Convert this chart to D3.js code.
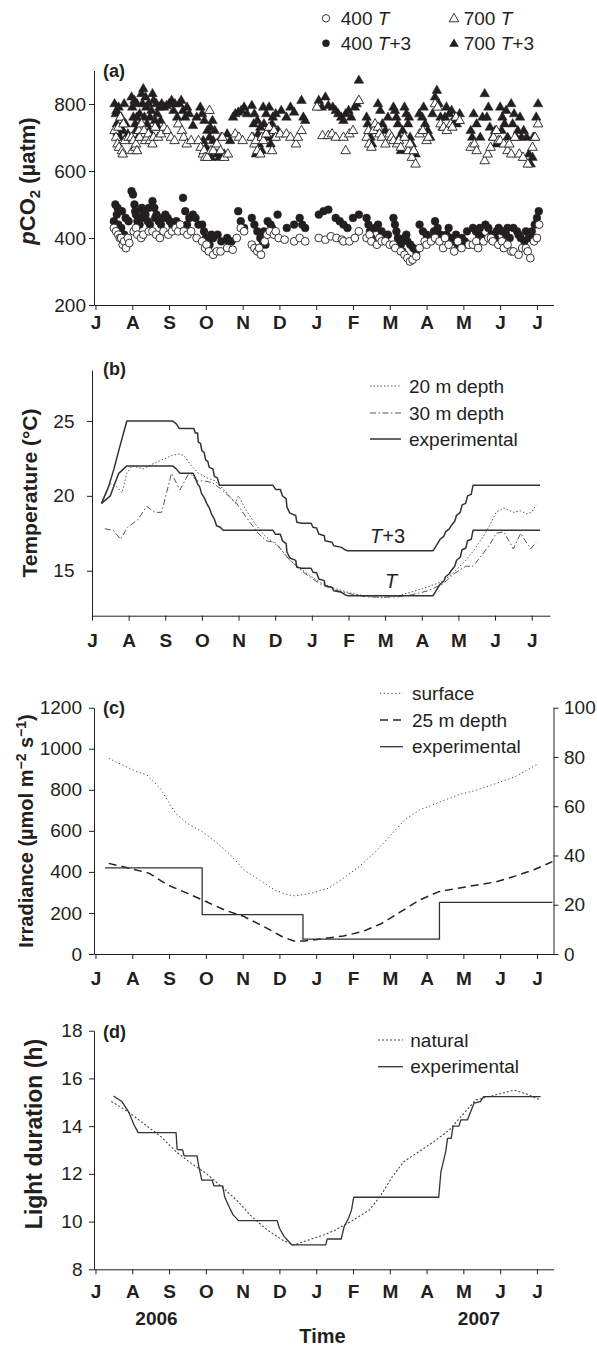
<!DOCTYPE html>
<html lang="en">
<head>
<meta charset="UTF-8">
<title>pCO2, temperature, irradiance and light duration</title>
<script src="https://d3js.org/d3.v7.min.js"></script>
<style>
  body { margin: 0; background: #fff; }
  svg { display: block; }
  text { font-family: "Liberation Sans", Arial, Helvetica, sans-serif; fill: #231f20; }
  .axis path, .axis line { stroke: #231f20; stroke-width: 1; }
  .axis text { font-family: "Liberation Sans", Arial, Helvetica, sans-serif; fill: #231f20; }
</style>
</head>
<body>
<svg width="597" height="1346"></svg>
<script>
const svg = d3.select("svg");
const INK = "#231f20";

// === Data (x = months since July 2006) ===
const months = ["J", "A", "S", "O", "N", "D", "J", "F", "M", "A", "M", "J", "J"];

// (a) pCO2, µatm
const co2_700_T3 = [
  [0.52,800],[0.55,770],[0.57,780],[0.58,740],[0.6,715],[0.63,790],[0.66,700],[0.69,730],[0.7,760],[0.74,720],[0.78,800],[0.82,740],[0.88,710],
  [0.98,820],[1.0,790],[1.03,760],[1.06,810],[1.08,740],[1.1,720],[1.12,760],[1.13,800],[1.16,700],[1.2,770],[1.22,740],
  [1.25,830],[1.28,800],[1.3,845],[1.33,760],[1.36,820],[1.38,790],[1.4,740],[1.44,800],[1.46,720],[1.48,760],[1.52,780],
  [1.55,830],[1.58,810],[1.62,750],[1.66,800],[1.68,770],[1.7,730],[1.74,790],[1.77,750],[1.8,800],[1.86,790],[1.93,795],[2.0,800],
  [2.07,810],[2.12,780],[2.16,800],[2.22,760],[2.28,800],[2.33,810],[2.38,780],[2.44,760],[2.49,790],[2.55,770],
  [2.65,735],[2.75,760],[2.85,790],[2.9,770],[2.93,690],[2.96,750],[3.0,670],[3.04,720],[3.07,660],[3.1,700],[3.12,730],[3.14,640],
  [3.18,750],[3.2,690],[3.24,720],[3.3,650],[3.36,640],[3.42,700],[3.5,650],[3.58,710],[3.66,690],[3.74,760],
  [3.8,770],[3.88,775],[3.96,780],[4.04,790],[4.12,770],
  [4.25,795],[4.28,700],[4.3,740],[4.32,770],[4.36,650],[4.4,750],[4.42,710],[4.44,680],[4.48,730],[4.52,660],[4.56,790],[4.58,740],[4.6,700],
  [4.64,770],[4.68,720],[4.7,700],[4.72,790],[4.76,680],[4.8,740],[4.82,760],[4.85,700],[4.9,770],[4.96,720],[5.05,780],
  [5.19,760],[5.3,790],[5.4,775],[5.6,810],[5.65,760],[5.7,750],
  [6.07,810],[6.15,790],[6.25,820],[6.33,795],[6.45,790],[6.53,780],[6.6,770],[6.68,760],[6.74,750],
  [6.8,770],[6.88,780],[6.95,760],[7.05,790],[7.1,800],[7.16,870],
  [7.37,760],[7.4,740],[7.44,720],[7.48,700],[7.52,680],[7.6,720],[7.68,800],[7.74,780],[7.8,740],[7.88,720],[7.95,760],
  [8.1,790],[8.14,780],[8.18,760],[8.22,740],[8.26,700],[8.3,660],[8.35,720],
  [8.4,790],[8.45,770],[8.5,740],[8.52,760],[8.55,700],[8.6,680],[8.65,660],[8.7,650],
  [8.8,770],[8.88,760],[8.92,790],[8.96,740],[9.03,720],[9.1,700],[9.16,770],[9.23,820],[9.28,840],[9.33,800],[9.38,760],[9.44,730],
  [9.5,760],[9.54,790],[9.62,770],[9.68,780],[9.72,750],[9.82,740],[9.9,770],
  [10.2,720],[10.24,700],[10.28,770],[10.36,740],[10.46,700],[10.52,760],[10.58,830],[10.64,760],[10.68,790],[10.72,730],[10.8,700],[10.86,720],[10.9,680],
  [11.0,790],[11.04,720],[11.06,760],[11.12,740],[11.16,780],[11.2,700],[11.3,800],[11.34,740],[11.38,770],[11.44,700],[11.48,720],[11.54,760],[11.58,700],[11.64,720],
  [11.72,700],[11.78,650],[11.83,620],[11.88,640],[11.9,700],[11.93,700],[11.98,760],[12.03,800]
];
const co2_700_T = [
  [0.52,720],[0.56,700],[0.6,680],[0.62,730],[0.64,670],[0.68,760],[0.72,660],[0.74,650],[0.76,740],[0.8,690],[0.9,700],
  [0.98,700],[1.0,660],[1.03,690],[1.08,670],[1.1,680],[1.13,660],[1.18,720],[1.2,700],
  [1.25,740],[1.32,720],[1.35,690],[1.4,700],[1.44,710],[1.48,690],[1.55,680],[1.58,700],[1.62,730],[1.7,700],[1.78,710],
  [1.86,730],[1.95,720],[2.05,700],[2.15,690],[2.25,740],[2.35,720],[2.4,700],[2.48,680],[2.6,690],
  [2.8,690],[2.86,670],[2.92,650],[2.95,660],[2.98,640],[3.04,640],[3.1,780],[3.14,660],[3.2,660],
  [3.3,680],[3.4,660],[3.45,700],[3.5,640],[3.6,650],[3.8,710],[3.9,700],[4.0,690],
  [4.25,700],[4.32,680],[4.36,690],[4.4,660],[4.48,650],[4.52,700],[4.56,690],[4.64,710],[4.72,730],[4.8,660],[4.85,720],[4.9,700],[5.02,710],
  [5.19,710],[5.3,700],[5.45,680],[5.5,700],[5.6,720],
  [6.02,790],[6.17,705],[6.33,705],[6.43,710],[6.53,700],[6.74,700],[6.8,660],[6.9,710],[7.0,720],[7.16,810],
  [7.37,700],[7.42,720],[7.44,680],[7.5,670],[7.56,720],[7.6,740],[7.68,730],[7.72,710],[7.78,700],[7.88,680],
  [7.99,710],[8.05,700],[8.1,690],[8.2,680],[8.25,690],[8.3,670],[8.4,700],[8.5,660],[8.55,680],[8.6,640],[8.65,660],[8.7,620],
  [8.81,710],[8.9,720],[9.0,690],[9.05,700],[9.23,800],[9.3,790],[9.38,740],[9.46,730],[9.55,720],[9.66,740],[9.7,730],[9.8,760],[9.9,750],
  [10.2,670],[10.3,680],[10.36,660],[10.58,630],[10.66,650],[10.74,670],[10.82,700],[10.9,720],[10.95,690],
  [11.0,690],[11.1,680],[11.2,660],[11.25,680],[11.3,650],[11.4,700],[11.52,650],[11.62,640],[11.75,620],[11.88,670],[11.95,700],[12.03,740]
];
const co2_400_T3 = [
  [0.5,450],[0.54,500],[0.58,470],[0.6,490],[0.62,440],[0.66,420],[0.7,430],[0.72,480],[0.78,410],[0.82,460],[0.9,450],
  [0.98,540],[1.02,530],[1.06,500],[1.08,480],[1.1,470],[1.14,450],[1.18,460],[1.2,440],
  [1.26,490],[1.3,480],[1.33,460],[1.36,470],[1.42,450],[1.45,490],[1.48,440],[1.55,510],[1.6,490],[1.62,460],[1.66,470],[1.72,450],[1.78,440],[1.84,460],
  [1.9,470],[1.96,460],[2.02,450],[2.08,440],[2.2,450],[2.38,520],[2.44,480],[2.49,440],[2.55,460],
  [2.65,470],[2.72,460],[2.8,440],[2.9,440],[2.95,420],[3.0,400],[3.05,390],[3.1,380],[3.15,410],[3.2,400],
  [3.32,410],[3.42,390],[3.58,400],[3.62,390],[3.7,390],[3.88,480],[3.95,450],[4.04,430],
  [4.25,460],[4.32,440],[4.4,420],[4.48,400],[4.55,390],[4.58,420],[4.62,380],[4.68,450],[4.76,440],[4.8,430],[4.85,420],[4.95,470],
  [5.2,430],[5.4,440],[5.55,460],[5.62,440],[5.7,430],
  [6.07,470],[6.2,480],[6.33,485],[6.53,460],[6.64,450],[6.74,440],[6.85,430],[7.0,460],[7.16,470],
  [7.37,460],[7.42,440],[7.46,420],[7.5,400],[7.54,390],[7.6,430],[7.68,440],[7.78,420],[7.88,400],[7.95,410],
  [8.1,460],[8.14,440],[8.18,420],[8.22,400],[8.26,390],[8.3,380],[8.34,360],
  [8.4,400],[8.45,410],[8.48,390],[8.56,380],[8.64,370],[8.72,360],[8.81,440],[8.9,420],[9.0,410],[9.1,400],
  [9.2,420],[9.23,450],[9.3,430],[9.38,410],[9.44,400],[9.54,410],[9.6,430],[9.64,400],[9.74,390],[9.8,410],[9.85,380],
  [9.96,400],[10.04,390],[10.1,420],[10.14,380],[10.26,430],[10.34,420],[10.42,410],[10.45,430],[10.5,400],
  [10.6,440],[10.68,430],[10.76,410],[10.86,400],[10.9,420],[10.96,430],[11.06,420],[11.16,410],[11.2,430],[11.26,400],
  [11.36,430],[11.46,420],[11.5,410],[11.56,400],[11.66,390],[11.7,420],[11.78,400],[11.86,420],[11.9,400],[11.94,440],[12.0,460],[12.05,480]
];
const co2_400_T = [
  [0.5,430],[0.56,420],[0.62,410],[0.66,400],[0.7,400],[0.74,380],[0.78,390],[0.83,370],[0.88,400],[0.92,385],
  [1.04,420],[1.1,430],[1.14,410],[1.24,400],[1.3,410],[1.45,420],[1.55,420],[1.65,410],[1.75,400],[1.85,420],
  [1.98,410],[2.08,420],[2.18,430],[2.25,420],[2.3,440],[2.4,420],[2.5,410],[2.6,420],[2.75,400],[2.9,390],
  [2.98,370],[3.02,380],[3.08,360],[3.2,350],[3.3,360],[3.4,360],[3.58,370],[3.73,365],[3.84,400],[3.95,430],[4.04,420],
  [4.25,380],[4.32,370],[4.4,360],[4.45,370],[4.5,350],[4.6,390],[4.67,410],[4.74,420],[4.85,410],[4.9,420],[4.98,400],
  [5.14,395],[5.4,390],[5.55,400],[5.7,390],
  [6.07,400],[6.25,395],[6.4,405],[6.55,400],[6.7,395],[6.74,390],[6.9,390],[7.05,400],[7.16,420],
  [7.37,400],[7.45,410],[7.5,390],[7.65,380],[7.72,400],[7.78,390],[7.88,390],[8.0,380],[8.1,380],[8.15,370],[8.3,360],
  [8.4,350],[8.48,340],[8.55,330],[8.62,335],[8.72,345],[8.81,370],[8.95,390],[9.0,380],[9.12,390],
  [9.23,400],[9.35,390],[9.45,370],[9.5,400],[9.6,380],[9.75,360],[9.85,390],[9.95,370],[10.15,380],
  [10.26,380],[10.35,390],[10.4,370],[10.55,390],[10.68,400],[10.75,400],[10.8,390],[10.95,380],[11.05,390],[11.1,370],[11.2,380],[11.3,360],
  [11.36,360],[11.5,350],[11.6,370],[11.7,370],[11.75,360],[11.82,340],[11.92,390],[12.0,400],[12.06,440]
];

// (b) temperature, °C
const temp20 = [
  [0.26,19.5],[0.4,20.3],[0.49,20.8],[0.6,20.7],[0.68,20.6],[0.82,20.2],[0.95,21.5],[1.09,22.0],[1.25,21.9],
  [1.4,21.8],[1.63,22.1],[1.9,22.4],[2.19,22.7],[2.37,22.8],[2.5,22.7],[2.73,21.95],[2.91,21.5],[3.14,21.2],
  [3.36,21.0],[3.64,20.3],[3.91,19.5],[4.0,20.0],[4.19,19.1],[4.46,18.1],[4.73,17.3],[4.95,16.9],[5.13,16.5],
  [5.4,15.7],[5.82,14.9],[6.24,14.2],[6.65,13.8],[7.07,13.5],[7.49,13.3],[7.9,13.2],[8.32,13.3],[8.74,13.6],
  [9.15,13.9],[9.57,14.3],[9.88,14.9],[10.2,15.7],[10.4,16.3],[10.66,17.2],[10.87,18.1],[11.03,18.9],
  [11.24,19.2],[11.5,18.9],[11.7,19.0],[11.86,18.8],[12.0,18.9],[12.12,19.4]
];
const temp30 = [
  [0.35,17.8],[0.58,17.7],[0.78,17.1],[0.97,17.9],[1.25,18.4],[1.49,19.3],[1.72,18.9],[1.9,18.9],[2.17,21.5],
  [2.4,20.4],[2.62,21.4],[2.72,21.4],[2.86,21.0],[3.04,21.0],[3.27,20.9],[3.5,20.5],[3.77,19.9],[3.95,19.5],
  [4.2,18.6],[4.5,17.6],[4.75,17.0],[5.0,16.9],[5.4,15.7],[5.82,14.8],[6.24,14.1],[6.65,13.7],[7.07,13.45],
  [7.49,13.25],[7.9,13.25],[8.32,13.25],[8.74,13.4],[9.15,13.65],[9.57,14.1],[9.88,14.8],[10.2,15.3],[10.4,15.3],
  [10.66,16.1],[10.87,16.8],[11.03,17.5],[11.24,17.6],[11.5,16.45],[11.7,17.5],[11.97,16.45],[12.12,16.9]
];
const tempT3 = [
  [0.26,19.5],[0.45,20.6],[0.6,21.8],[0.75,23.2],[0.95,25.0],[2.2,25.0],[2.3,24.8],[2.38,24.5],[2.78,24.5],
  [2.82,24.2],[2.88,24.2],[2.9,23.6],[2.96,23.5],[3.0,23.0],[3.06,22.9],[3.1,22.4],[3.16,22.3],[3.2,21.9],
  [3.3,21.8],[3.34,21.3],[3.42,21.2],[3.48,20.7],[4.94,20.7],[5.01,20.43],[5.14,20.43],[5.2,19.99],[5.3,19.81],
  [5.32,19.25],[5.4,18.85],[5.56,18.69],[5.59,18.24],[5.72,18.17],[5.98,18.17],[6.03,17.9],[6.13,17.86],
  [6.19,17.45],[6.34,17.34],[6.36,17.0],[6.55,16.9],[6.6,16.67],[6.81,16.56],[6.92,16.38],[6.97,16.34],
  [9.31,16.34],[9.4,16.7],[9.5,17.1],[9.6,17.3],[9.65,17.6],[9.75,17.8],[9.8,18.0],[9.9,18.3],[9.95,18.7],
  [10.05,18.9],[10.1,19.4],[10.2,19.5],[10.25,20.0],[10.35,20.1],[10.4,20.7],[12.23,20.7]
];
const tempT = [
  [0.26,19.5],[0.5,20.0],[0.62,20.8],[0.73,21.5],[0.95,22.0],[2.2,22.0],[2.3,21.8],[2.4,21.5],[2.76,21.5],
  [2.82,21.2],[2.88,20.8],[2.94,20.6],[2.99,20.15],[3.06,19.9],[3.13,19.5],[3.2,19.2],[3.26,18.8],[3.33,18.5],
  [3.4,18.0],[3.5,17.9],[3.58,17.7],[4.94,17.7],[5.01,17.43],[5.14,17.43],[5.2,16.99],[5.3,16.81],[5.32,16.25],
  [5.4,15.85],[5.56,15.69],[5.59,15.24],[5.72,15.17],[5.98,15.17],[6.03,14.9],[6.13,14.86],[6.19,14.45],
  [6.34,14.34],[6.36,14.0],[6.55,13.9],[6.6,13.67],[6.81,13.56],[6.92,13.38],[6.97,13.34],[9.31,13.34],
  [9.4,13.7],[9.5,14.1],[9.6,14.3],[9.65,14.6],[9.75,14.8],[9.8,15.0],[9.9,15.3],[9.95,15.7],[10.05,15.9],
  [10.1,16.4],[10.2,16.5],[10.25,17.0],[10.35,17.1],[10.4,17.7],[12.23,17.7]
];

// (c) irradiance: surface on the left axis, 25 m depth and experimental on the right axis
const irrSurface = [
  [0.36,953],[0.83,913],[1.1,890],[1.4,872],[1.76,807],[2.18,685],[2.49,637],[2.9,596],[3.21,555],[3.63,490],
  [4.04,409],[4.46,360],[4.87,312],[5.2,290],[5.44,283],[5.86,296],[6.33,320],[6.74,369],[7.16,425],[7.57,490],
  [7.99,572],[8.4,653],[8.81,702],[9.38,742],[9.85,775],[10.37,799],[10.89,831],[11.41,864],[12.03,926]
];
const irr25m = [
  [0.36,36.8],[0.93,34.8],[1.45,32.8],[1.97,28.0],[2.49,24.7],[3.0,21.3],[3.52,17.8],[4.04,15.2],[4.67,10.4],
  [5.08,7.0],[5.39,5.3],[5.7,5.3],[6.22,6.3],[6.74,7.3],[7.26,9.1],[7.78,12.4],[8.3,17.2],[8.81,21.9],
  [9.33,25.3],[9.85,26.7],[10.37,28.0],[10.89,29.3],[11.36,31.4],[11.93,34.3],[12.42,37.5]
];
const irrExp = [[0.26,35],[2.9,16],[5.64,6],[9.35,21],[12.42,21]];

// (d) light duration, h
const lightNatural = [
  [0.43,15.03],[0.74,14.75],[1.0,14.47],[1.36,14.05],[1.78,13.56],[2.19,12.93],[2.6,12.44],[3.01,12.02],
  [3.43,11.46],[3.84,10.9],[4.25,10.2],[4.67,9.65],[5.08,9.23],[5.39,9.02],[5.8,9.23],[6.21,9.44],[6.52,9.65],
  [6.94,10.0],[7.45,10.49],[7.76,11.11],[8.07,11.88],[8.38,12.51],[8.79,12.93],[9.2,13.35],[9.62,13.84],
  [9.93,14.4],[10.34,15.1],[10.86,15.3],[11.37,15.51],[11.68,15.37],[12.1,15.1]
];
const lightExp = [
  [0.49,15.26],[0.72,15.03],[0.9,14.6],[1.05,14.05],[1.16,13.73],[2.19,13.73],[2.22,13.03],[2.37,13.0],
  [2.41,12.75],[2.76,12.75],[2.81,12.3],[2.89,11.74],[3.17,11.74],[3.22,11.5],[3.46,11.5],[3.51,11.04],
  [3.63,10.63],[3.74,10.28],[3.89,10.04],[4.94,10.04],[5.0,9.72],[5.13,9.37],[5.34,9.02],[6.26,9.02],
  [6.3,9.27],[6.68,9.27],[6.76,9.79],[6.88,10.14],[6.96,10.49],[7.02,11.02],[9.33,11.02],[9.39,12.09],
  [9.52,12.93],[9.57,13.49],[9.67,13.49],[9.72,14.0],[9.88,14.0],[9.93,14.26],[10.11,14.26],[10.29,14.96],
  [10.46,15.03],[10.55,15.24],[12.1,15.24]
];

// === Scales ===
const xA = d3.scaleLinear().domain([-0.04, 12.45]).range([94, 553.5]);
const xB = d3.scaleLinear().domain([0, 12.5]).range([92, 550]);
const yA = d3.scaleLinear().domain([200, 900]).range([305, 70.5]);
const yB = d3.scaleLinear().domain([12, 28.4]).range([615.7, 370]);
const yC = d3.scaleLinear().domain([0, 1200]).range([954, 707.7]);
const yCr = d3.scaleLinear().domain([0, 100]).range([954, 707.7]);
const yD = d3.scaleLinear().domain([8, 18]).range([1269.3, 1030.7]);

// === Axes ===
function styleAxis(g, size, bold) {
  g.attr("class", "axis").attr("font-size", size).attr("font-family", null);
  g.selectAll("text").attr("font-weight", bold ? "bold" : "normal").attr("fill", INK);
  g.selectAll("line").attr("stroke", INK);
  g.select(".domain").attr("stroke", INK);
}
function monthAxis(x, y0, pad) {
  svg.append("g").attr("transform", `translate(0,${y0})`)
    .call(d3.axisBottom(x).tickValues(d3.range(13)).tickFormat(i => months[i])
      .tickSize(5).tickSizeOuter(0).tickPadding(pad))
    .call(g => styleAxis(g, 19, true));
}
function valueAxis(y, x0, ticks, pad) {
  svg.append("g").attr("transform", `translate(${x0},0)`)
    .call(d3.axisLeft(y).tickValues(ticks).tickFormat(d3.format("d")).tickSize(5).tickSizeOuter(0).tickPadding(pad))
    .call(g => styleAxis(g, 19, false));
}

monthAxis(xA, 305, 6);
valueAxis(yA, 94, [200, 400, 600, 800], 3);
monthAxis(xB, 615.7, 12.5);
valueAxis(yB, 92, [15, 20, 25], 12.5);
monthAxis(xA, 954, 12.5);
valueAxis(yC, 94, [0, 200, 400, 600, 800, 1000, 1200], 7);
svg.append("g").attr("transform", "translate(553.5,0)")
  .call(d3.axisRight(yCr).tickValues([0, 20, 40, 60, 80, 100]).tickSize(5).tickSizeOuter(0).tickPadding(5.5))
  .call(g => styleAxis(g, 19, false));
monthAxis(xA, 1269.3, 10.5);
valueAxis(yD, 94, [8, 10, 12, 14, 16, 18], 6.5);

// === Axis titles ===
function yTitle(cx, cy, size) {
  return svg.append("text")
    .attr("transform", `translate(${cx + size * 0.36},${cy}) rotate(-90)`)
    .attr("text-anchor", "middle").attr("font-weight", "bold").attr("font-size", size);
}
const t1 = yTitle(27.5, 181, 22);
t1.append("tspan").attr("font-style", "italic").text("p");
t1.append("tspan").text("CO");
t1.append("tspan").attr("font-size", 15).attr("dy", 5).text("2");
t1.append("tspan").attr("dy", -5).text(" (µatm)");

yTitle(29.6, 493, 21).text("Temperature (°C)");

const t3 = yTitle(25.6, 831, 20);
t3.append("tspan").text("Irradiance (µmol m");
t3.append("tspan").attr("font-size", 14).attr("dy", -7).text("−2");
t3.append("tspan").attr("dy", 7).text(" s");
t3.append("tspan").attr("font-size", 14).attr("dy", -7).text("−1");
t3.append("tspan").attr("dy", 7).text(")");

yTitle(34, 1134, 23).text("Light duration (h)");

svg.append("text").attr("x", 156.5).attr("y", 1325).attr("text-anchor", "middle")
  .attr("font-weight", "bold").attr("font-size", 19).text("2006");
svg.append("text").attr("x", 479).attr("y", 1325).attr("text-anchor", "middle")
  .attr("font-weight", "bold").attr("font-size", 19).text("2007");
svg.append("text").attr("x", 322.5).attr("y", 1343).attr("text-anchor", "middle")
  .attr("font-weight", "bold").attr("font-size", 20).text("Time");

// panel letters
[["(a)", 77], ["(b)", 375], ["(c)", 714], ["(d)", 1038]].forEach(([t, y]) => {
  svg.append("text").attr("x", 103).attr("y", y).attr("font-weight", "bold").attr("font-size", 18).text(t);
});

// === (a) scatter ===
const tri = d3.symbol().type(d3.symbolTriangle).size(40);
function triangles(data, open) {
  svg.append("g").selectAll("path").data(data).join("path")
    .attr("d", tri)
    .attr("transform", d => `translate(${xA(d[0])},${yA(d[1])})`)
    .attr("fill", open ? "#fff" : INK)
    .attr("stroke", INK).attr("stroke-width", open ? 0.9 : 0.5);
}
function circles(data, open) {
  svg.append("g").selectAll("circle").data(data).join("circle")
    .attr("cx", d => xA(d[0])).attr("cy", d => yA(d[1])).attr("r", 3.9)
    .attr("fill", open ? "#fff" : INK)
    .attr("stroke", INK).attr("stroke-width", open ? 0.9 : 0.5);
}
triangles(co2_700_T3, false);
circles(co2_400_T3, false);
triangles(co2_700_T, true);
circles(co2_400_T, true);

// legend (a)
function legendLabel(x, y, base, plus) {
  const t = svg.append("text").attr("x", x).attr("y", y + 6.7).attr("font-size", 19);
  t.append("tspan").text(base + " ");
  t.append("tspan").attr("font-style", "italic").text("T");
  if (plus) t.append("tspan").text("+3");
}
svg.append("circle").attr("cx", 326).attr("cy", 18.3).attr("r", 3.7).attr("fill", "#fff").attr("stroke", INK).attr("stroke-width", 0.9);
svg.append("circle").attr("cx", 326).attr("cy", 43.3).attr("r", 3.7).attr("fill", INK);
svg.append("path").attr("d", tri).attr("transform", "translate(454,19)").attr("fill", "#fff").attr("stroke", INK).attr("stroke-width", 0.9);
svg.append("path").attr("d", tri).attr("transform", "translate(454,44)").attr("fill", INK);
legendLabel(340.8, 18.3, "400", false);
legendLabel(340.8, 43.3, "400", true);
legendLabel(463.7, 18.3, "700", false);
legendLabel(463.7, 43.3, "700", true);

// === line helper ===
function drawLine(data, x, y, opts) {
  const gen = d3.line().x(d => x(d[0])).y(d => y(d[1])).curve(opts.curve || d3.curveLinear);
  svg.append("path").datum(data)
    .attr("d", gen).attr("fill", "none")
    .attr("stroke", opts.color || INK)
    .attr("stroke-width", opts.width || 1)
    .attr("stroke-dasharray", opts.dash || null)
    .attr("stroke-linejoin", "round");
}
function legendRow(x1, x2, tx, y, label, opts) {
  svg.append("line").attr("x1", x1).attr("x2", x2).attr("y1", y).attr("y2", y)
    .attr("stroke", opts.color || INK).attr("stroke-width", opts.width || 1)
    .attr("stroke-dasharray", opts.dash || null);
  svg.append("text").attr("x", tx).attr("y", y + 6.7).attr("font-size", 19).text(label);
}

// === (b) temperature ===
const s20 = { color: "#555", width: 1, dash: "1.5,2" };
const s30 = { color: "#555", width: 1, dash: "6,2.5,1.5,2.5" };
const sExp = { color: "#333", width: 1.5 };
drawLine(temp20, xB, yB, s20);
drawLine(temp30, xB, yB, s30);
drawLine(tempT3, xB, yB, sExp);
drawLine(tempT, xB, yB, sExp);
legendRow(370, 401, 409, 386, "20 m depth", s20);
legendRow(370, 401, 409, 413, "30 m depth", s30);
legendRow(370, 401, 409, 439, "experimental", sExp);

const lt3 = svg.append("text").attr("x", 387.5).attr("y", 543).attr("text-anchor", "middle").attr("font-size", 20);
lt3.append("tspan").attr("font-style", "italic").text("T");
lt3.append("tspan").text("+3");
svg.append("text").attr("x", 391).attr("y", 588).attr("text-anchor", "middle")
  .attr("font-size", 20).attr("font-style", "italic").text("T");

// === (c) irradiance ===
const sSurf = { color: "#444", width: 1, dash: "1.2,2.6" };
const s25 = { color: "#222", width: 1.5, dash: "8,5" };
const sIrrExp = { color: "#333", width: 1.3 };
drawLine(irrSurface, xA, yC, sSurf);
drawLine(irr25m, xA, yCr, s25);
drawLine(irrExp, xA, yCr, Object.assign({ curve: d3.curveStepAfter }, sIrrExp));
legendRow(380, 403, 412, 693.3, "surface", sSurf);
legendRow(380, 403, 412, 720, "25 m depth", s25);
legendRow(380, 403, 412, 746.7, "experimental", sIrrExp);

// === (d) light duration ===
const sNat = { color: "#444", width: 1.1, dash: "2,2" };
const sLightExp = { color: "#333", width: 1.3 };
drawLine(lightNatural, xA, yD, sNat);
drawLine(lightExp, xA, yD, sLightExp);
legendRow(378, 403, 410.3, 1040, "natural", sNat);
legendRow(378, 403, 410.3, 1066.7, "experimental", sLightExp);
</script>
</body>
</html>
